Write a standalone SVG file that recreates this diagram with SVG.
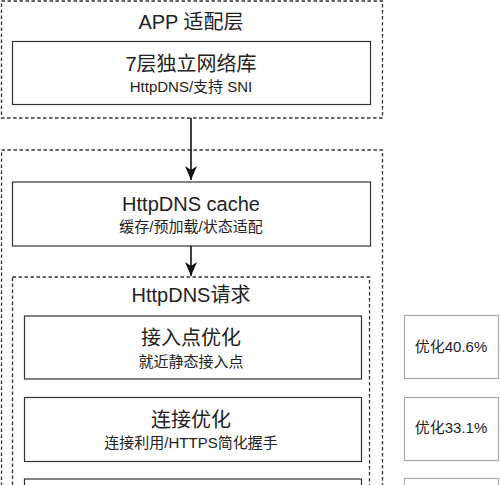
<svg xmlns="http://www.w3.org/2000/svg" width="500" height="485" viewBox="0 0 500 485">
<defs>
<style>
.dash{fill:none;stroke:#333;stroke-width:1.3;stroke-dasharray:3.5 2.5}
.box{fill:#fff;stroke:#333;stroke-width:1.2}
.gbox{fill:#fff;stroke:#aaa;stroke-width:1.2}
.t{font-family:"Liberation Sans","Noto Sans CJK SC",sans-serif;fill:#222;text-anchor:middle}
.big{font-size:20px}
.sm{font-size:15px}
.conn{stroke:#111;stroke-width:1.6;fill:none}
</style>
<marker id="ah" viewBox="0 0 14 12" refX="14" refY="6" markerWidth="14" markerHeight="12" markerUnits="userSpaceOnUse" orient="auto">
<path d="M0,0 L14,6 L0,12 L4,6 z" fill="#111"/>
</marker>
</defs>
<rect width="500" height="485" fill="#fff"/>
<g id="app-layer">
<rect class="dash" x="1.5" y="1" width="381" height="117"/>
<text class="t big" x="191" y="29">APP 适配层</text>
</g>
<g id="net-lib">
<rect class="box" x="12.5" y="41.5" width="358" height="63"/>
<text class="t big" x="191" y="71">7层独立网络库</text>
<text class="t sm" x="191" y="92">HttpDNS/支持 SNI</text>
</g>
<g id="httpdns-layer">
<rect class="dash" x="1.5" y="150" width="381" height="360"/>
</g>
<g id="cache">
<rect class="box" x="12.5" y="182" width="358" height="64"/>
<text class="t big" x="191" y="211">HttpDNS cache</text>
<text class="t sm" x="191" y="232">缓存/预加载/状态适配</text>
</g>
<g id="request">
<rect class="dash" x="12.5" y="277" width="357" height="230"/>
<text class="t big" x="191" y="302">HttpDNS请求</text>
</g>
<g id="access-point">
<rect class="box" x="24.5" y="316" width="337" height="63"/>
<text class="t big" x="191" y="345">接入点优化</text>
<text class="t sm" x="191" y="367">就近静态接入点</text>
</g>
<g id="conn-opt">
<rect class="box" x="24.5" y="397.5" width="337" height="64"/>
<text class="t big" x="191" y="427">连接优化</text>
<text class="t sm" x="191" y="448">连接利用/HTTPS简化握手</text>
</g>
<g id="third">
<rect class="box" x="24.5" y="479" width="337" height="30"/>
</g>
<g id="r1">
<rect class="gbox" x="404.5" y="315.5" width="94" height="63"/>
<text class="t sm" x="451" y="352">优化40.6%</text>
</g>
<g id="r2">
<rect class="gbox" x="404.5" y="397.5" width="94" height="63"/>
<text class="t sm" x="451" y="433">优化33.1%</text>
</g>
<g id="r3">
<rect class="gbox" x="404.5" y="478.5" width="94" height="30"/>
</g>
<g id="connectors">
<line class="conn" x1="191" y1="118" x2="191" y2="180" marker-end="url(#ah)"/>
<line class="conn" x1="191" y1="246" x2="191" y2="276" marker-end="url(#ah)"/>
</g>
</svg>
